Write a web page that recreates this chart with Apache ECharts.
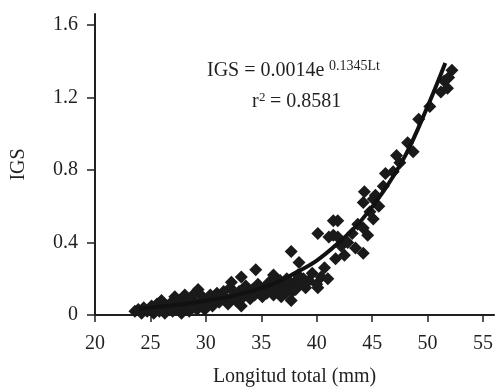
<!DOCTYPE html>
<html>
<head>
<meta charset="utf-8">
<script src="https://cdn.jsdelivr.net/npm/echarts@6/dist/echarts.min.js"></script>
<style>
  html, body { margin: 0; padding: 0; background: #fff; }
  #chart { width: 496px; height: 392px; }
</style>
</head>
<body>
<div id="chart"></div>
<script>
// Longitud total (mm) vs IGS
const lengths = [
  23.6, 23.9, 24.2, 24.4, 24.7, 24.9, 25.1, 25.3, 25.5, 25.6, 25.8, 26.0, 26.1, 26.3, 26.5, 26.7,
  26.9, 27.0, 27.2, 27.3, 27.5, 27.6, 27.8, 27.9, 28.1, 28.2, 28.4, 28.5, 28.7, 28.8, 29.0, 29.2,
  29.3, 29.5, 29.7, 29.9, 30.0, 30.2, 30.4, 30.6, 30.8, 31.0, 31.2, 31.4, 31.6, 31.8, 32.0, 32.2,
  32.3, 32.5, 32.7, 33.0, 33.2, 33.2, 33.4, 33.6, 33.8, 34.0, 34.2, 34.4, 34.5, 34.7, 34.9, 35.1,
  35.3, 35.5, 35.7, 35.9, 36.1, 36.1, 36.3, 36.5, 36.7, 36.8, 37.0, 37.2, 37.3, 37.5, 37.7, 37.7,
  37.8, 38.0, 38.1, 38.3, 38.4, 38.5, 38.8, 39.0, 39.3, 39.6, 40.0, 40.1, 40.1, 40.4, 40.7, 41.0,
  41.1, 41.5, 41.5, 41.7, 41.9, 41.9, 42.2, 42.5, 42.8, 43.2, 43.5, 43.7, 44.2, 44.2, 44.3, 44.2,
  44.6, 44.8, 45.1, 45.1, 45.3, 45.6, 46.0, 46.2, 46.9, 47.2, 47.5, 48.7, 48.2, 49.2, 50.2, 51.2,
  51.5, 51.8, 51.9, 52.2
];
const igs = [
  0.02, 0.03, 0.01, 0.04, 0.02, 0.03, 0.05, 0.01, 0.03, 0.06, 0.02, 0.08, 0.04, 0.01, 0.05, 0.03,
  0.07, 0.02, 0.10, 0.05, 0.03, 0.08, 0.01, 0.06, 0.11, 0.04, 0.07, 0.02, 0.09, 0.05, 0.12, 0.03,
  0.14, 0.07, 0.10, 0.03, 0.06, 0.09, 0.11, 0.05, 0.08, 0.12, 0.07, 0.10, 0.13, 0.09, 0.06, 0.15,
  0.18, 0.11, 0.08, 0.13, 0.21, 0.05, 0.10, 0.16, 0.12, 0.09, 0.14, 0.11, 0.25, 0.17, 0.13, 0.10,
  0.15, 0.12, 0.18, 0.14, 0.22, 0.11, 0.16, 0.13, 0.19, 0.10, 0.15, 0.12, 0.20, 0.16, 0.35, 0.08,
  0.13, 0.18, 0.14, 0.22, 0.29, 0.17, 0.20, 0.15, 0.19, 0.23, 0.17, 0.45, 0.15, 0.21, 0.26, 0.20,
  0.43, 0.52, 0.44, 0.31, 0.52, 0.43, 0.38, 0.33, 0.40, 0.45, 0.37, 0.50, 0.34, 0.48, 0.68, 0.62,
  0.44, 0.57, 0.64, 0.53, 0.66, 0.60, 0.71, 0.78, 0.79, 0.88, 0.84, 0.90, 0.95, 1.08, 1.15, 1.23,
  1.29, 1.25, 1.31, 1.35
];

// fitted curve, points
const fitX = [24, 26, 28, 30, 32, 34, 36, 38, 40, 42, 44, 46, 48, 50, 51.6];
const fitY = [0.036, 0.047, 0.061, 0.079, 0.10, 0.13, 0.17, 0.23, 0.30, 0.40, 0.52, 0.68, 0.88, 1.15, 1.39];

const xTicks = [20, 25, 30, 35, 40, 45, 50, 55];
const yTicks = [0, 0.4, 0.8, 1.2, 1.6];

const ink = "#231f20";
const serif = "'Liberation Serif', 'DejaVu Serif', serif";

const chart = echarts.init(document.getElementById("chart"), null, { renderer: "canvas" });

chart.setOption({
  animation: false,
  backgroundColor: "#fff",
  grid: { left: 95, right: 1, top: 14, bottom: 74 },
  xAxis: {
    type: "value",
    min: 20,
    max: 56,
    interval: 5,
    name: "Longitud total (mm)",
    nameLocation: "middle",
    nameGap: 52,
    nameTextStyle: { color: ink, fontFamily: serif, fontSize: 20 },
    axisLine: { show: true, onZero: false, lineStyle: { color: ink, width: 2 } },
    axisTick: { show: true, length: 7, customValues: xTicks, lineStyle: { color: ink, width: 1.5 } },
    axisLabel: { customValues: xTicks, color: ink, fontFamily: serif, fontSize: 20, margin: 19 },
    splitLine: { show: false },
  },
  yAxis: {
    type: "value",
    min: 0,
    max: 1.66,
    interval: 0.4,
    name: "IGS",
    nameLocation: "middle",
    nameGap: 66,
    nameRotate: 90,
    nameTextStyle: { color: ink, fontFamily: serif, fontSize: 20 },
    axisLine: { show: true, onZero: false, lineStyle: { color: ink, width: 2 } },
    axisTick: { show: true, length: 8, customValues: yTicks, lineStyle: { color: ink, width: 1.5 } },
    axisLabel: { customValues: yTicks, color: ink, fontFamily: serif, fontSize: 20, margin: 17 },
    splitLine: { show: false },
  },
  graphic: [
    { type: "text", left: 207, top: 61, style: { text: "IGS = 0.0014e", fill: ink, font: "20px " + serif } },
    { type: "text", left: 329, top: 59, style: { text: "0.1345Lt", fill: ink, font: "14px " + serif } },
    { type: "text", left: 252, top: 92, style: { text: "r", fill: ink, font: "20px " + serif } },
    { type: "text", left: 259, top: 91, style: { text: "2", fill: ink, font: "13px " + serif } },
    { type: "text", left: 265, top: 92, style: { text: " = 0.8581", fill: ink, font: "20px " + serif } },
  ],
  series: [
    {
      type: "scatter",
      symbol: "diamond",
      symbolSize: 13,
      itemStyle: { color: "#1a1a1a", opacity: 1 },
      data: lengths.map((x, i) => [x, igs[i]]),
      z: 2,
    },
    {
      type: "line",
      data: fitX.map((x, i) => [x, fitY[i]]),
      smooth: 0.4,
      showSymbol: false,
      lineStyle: { color: "#111", width: 4 },
      z: 3,
    },
  ],
});
</script>
</body>
</html>
